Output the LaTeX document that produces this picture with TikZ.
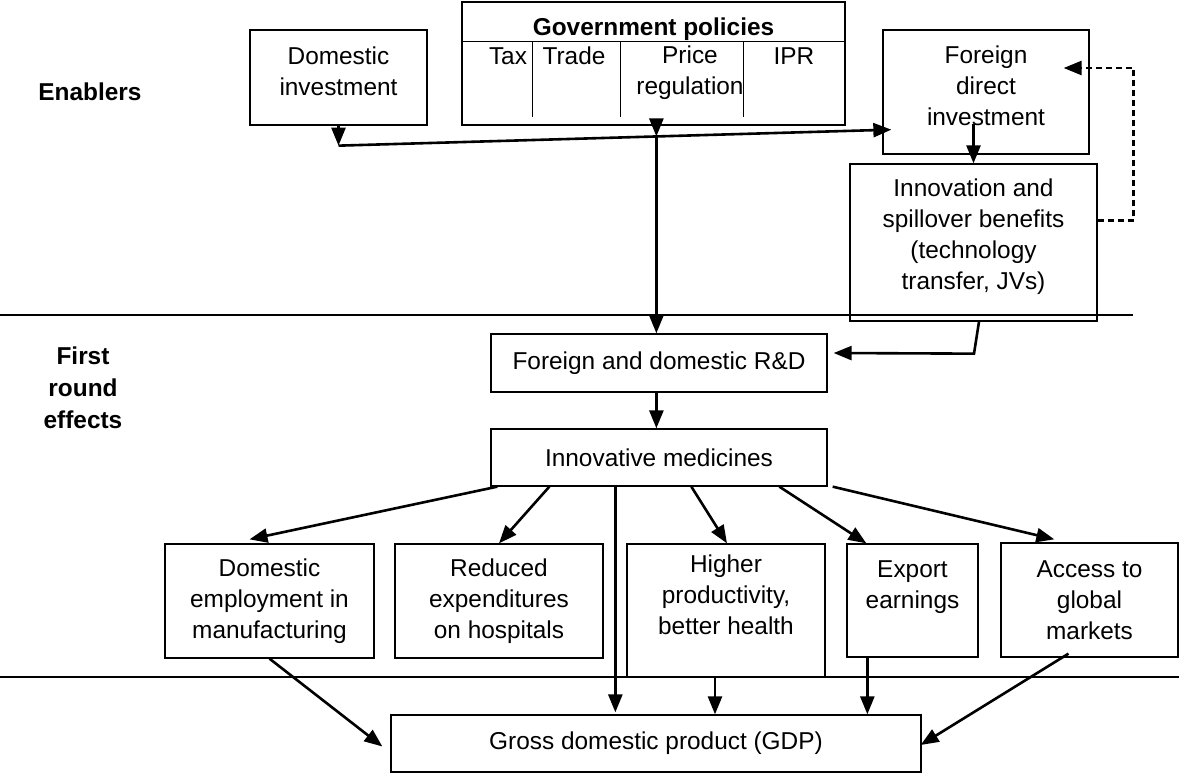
\documentclass[tikz,border=0pt]{standalone}
\usepackage{fontspec}
\setmainfont{Liberation Sans}
\usetikzlibrary{arrows.meta,calc}

\begin{document}
\begin{tikzpicture}
        [x=1pt,y=-1pt,
        every node/.style={font=\fontsize{24.4}{31}\selectfont},
        box/.style={draw=black, line width=1.3pt, align=center, inner sep=0pt},
        lift/.style={text depth=#1},
        head/.style={font=\fontsize{24.4}{32}\selectfont\bfseries, align=center},
        rule/.style={line width=1.3pt},
        sep/.style={line width=1.6pt},
        arrow/.style={line width=2.6pt, -{Triangle[length=18pt,width=14pt]}}]
        \useasboundingbox (0,0) rectangle (1179,773);
        \node[head] (enablers) at (90,92) {Enablers};
        \node[head] (first) at (83,388) {First\\round\\effects};
        \draw[sep] (0,315) -- (1133,315);
        \draw[sep] (0,677) -- (1179,677);
        \node[box, lift=12pt, minimum width=177, minimum height=95] (dominv) at (338.5,77.5) {Domestic\\investment};
        \node[box, minimum width=383, minimum height=123] (gov) at (653.5,63.5) {};
        \node[head] (govhead) at (653.5,29) {Government policies};
        \draw[rule] ($(gov.north west)+(0,40)$) -- ($(gov.north east)+(0,40)$);
        \foreach \dx in {71,159,282}
            \draw[rule] ($(gov.north west)+(\dx,40)$) -- ++(0,76);
        \node (tax) at (508,56) {Tax};
        \node (trade) at (574,56) {Trade};
        \node[align=center] (price) at (690,73) {Price\\regulation};
        \node (ipr) at (794,56) {IPR};
        \node[box, lift=12pt, minimum width=206, minimum height=124] (fdi) at (986,92) {Foreign\\direct\\investment};
        \node[box, lift=17pt, minimum width=247, minimum height=157] (innov) at (973.5,242.5) {Innovation and\\spillover benefits\\(technology\\transfer, JVs)};
        \node[box, minimum width=336, minimum height=58] (rd) at (659,363) {Foreign and domestic R\&D};
        \node[box, minimum width=336, minimum height=57] (med) at (659,457.5) {Innovative medicines};
        \node[box, minimum width=209, minimum height=114] (emp) at (269.5,601) {Domestic\\employment in\\manufacturing};
        \node[box, minimum width=208, minimum height=114] (hosp) at (499,601) {Reduced\\expenditures\\on hospitals};
        \node[box, minimum width=198, minimum height=133] (prod) at (726,610.5) {Higher\\productivity,\\better health\\\mbox{}};
        \node[box, minimum width=131, minimum height=113] (export) at (912.5,600.5) {Export\\earnings\\\mbox{}};
        \node[box, minimum width=177, minimum height=114] (access) at (1089.5,600) {Access to\\global\\markets};
        \node[box, minimum width=530, minimum height=57] (gdp) at (656,743.5) {Gross domestic product (GDP)};
        \coordinate (j1) at ($(dominv.south)+(0,20)$);
        \coordinate (fdiin) at ($(fdi.south west)+(9,-25)$);
        \coordinate (j2) at ($(j1)!0.575!(fdiin)$);
        \draw[arrow] (dominv.south) -- (j1);
        \draw[arrow] (j1) -- (fdiin);
        \draw[arrow] (j2 |- gov.south) -- (j2);
        \draw[arrow] (j2) -- (j2 |- rd.north);
        \draw[arrow] ($(innov.north)+(0,-39)$) -- (innov.north);
        \draw[arrow, dash pattern=on 6pt off 4pt] ($(innov.east)+(0,-22)$) -- ++(36,0) |- ($(fdi.east)+(-26,-24)$);
        \draw[arrow] ($(innov.south)+(5.5,0)$) -- ++(-5,32) -- ($(rd.east)+(6,-10)$);
        \draw[arrow] (rd.south -| j2) -- (med.north -| j2);
        \draw[arrow] ($(med.south west)+(7,0)$) -- ($(emp.north)+(-20,-4)$);
        \draw[arrow] ($(med.south west)+(59,0)$) -- (hosp.north);
        \draw[arrow] ($(med.south west)+(125,0)$) -- ($(gdp.north west)+(225,-2)$);
        \draw[arrow] ($(med.south west)+(201,0)$) -- ($(prod.north)+(1,0)$);
        \draw[arrow] ($(med.south west)+(289,0)$) -- ($(export.north west)+(20,0)$);
        \draw[arrow] ($(med.south east)+(5,0)$) -- ($(access.north west)+(54,-3)$);
        \draw[arrow] (emp.south) -- ($(gdp.west)+(-8,3)$);
        \draw[arrow] ($(prod.south)+(-11,0)$) -- ($(prod.south |- gdp.north)+(-11,0)$);
        \draw[arrow] ($(export.south west)+(21,0)$) -- ($(export.south west |- gdp.north)+(21,0)$);
        \draw[arrow] ($(access.south)+(-21,-4)$) -- ($(gdp.east)+(-1,1.5)$);
\end{tikzpicture}
\end{document}
